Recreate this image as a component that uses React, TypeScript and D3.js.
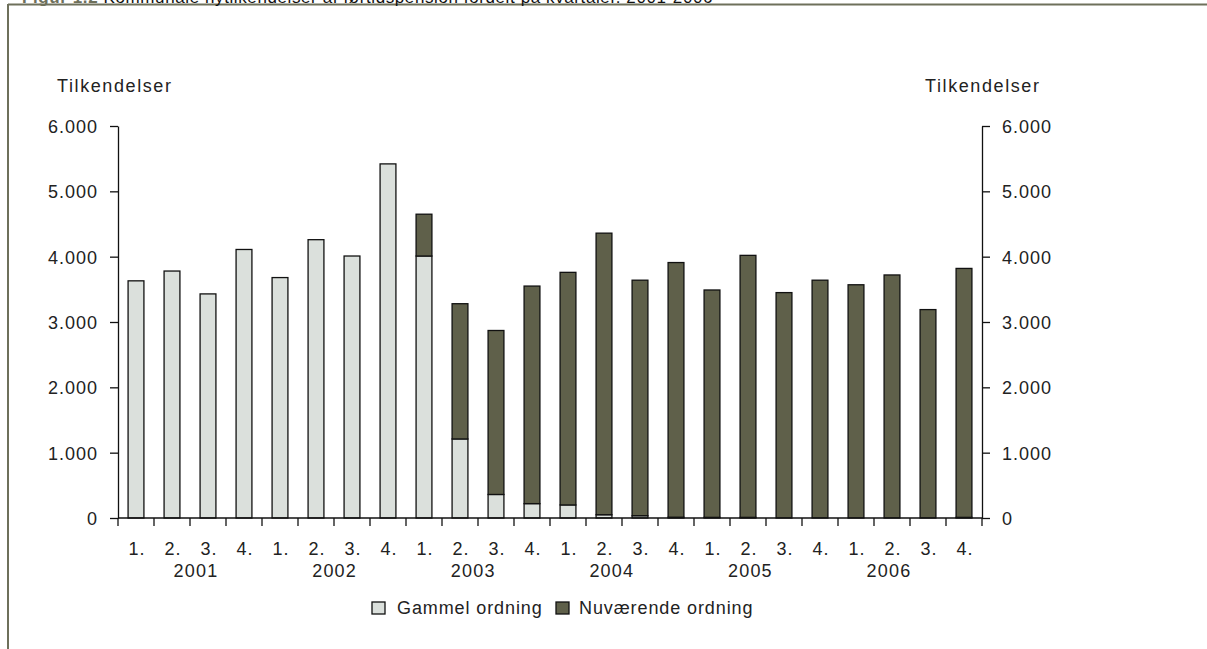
import { useEffect, useRef } from 'react';
import * as d3 from 'd3';

const years = ['2001', '2002', '2003', '2004', '2005', '2006'];
const quarterNames = ['1.', '2.', '3.', '4.'];
const gammel = [3630, 3780, 3430, 4110, 3680, 4260, 4010, 5420, 4010, 1210, 360, 220, 200, 50, 35, 12, 10, 10, 0, 0, 0, 0, 0, 10];
const nuvaerende = [0, 0, 0, 0, 0, 0, 0, 0, 640, 2070, 2510, 3330, 3560, 4310, 3605, 3898, 3480, 4010, 3450, 3640, 3570, 3720, 3190, 3810];
const yTicks = [0, 1000, 2000, 3000, 4000, 5000, 6000];
const seriesNames = ['Gammel ordning', 'Nuværende ordning'];

const W = 1207;
const H = 649;
const FONT = 'Liberation Sans, Arial, sans-serif';
const LIGHT = '#dbe0dc';
const DARK = '#5f604a';
const FRAME = '#6e705b';

const App = () => {
  const ref = useRef(null);

  useEffect(() => {
    const svg = d3.select(ref.current);
    svg.selectAll('*').remove();

    const left = 118, right = 982, top = 126, bottom = 518;

    const rows = years.flatMap((yr) =>
      quarterNames.map((q) => ({ key: `${yr}-${q}`, year: yr, q }))
    ).map((d, i) => ({ ...d, gammel: gammel[i], nuv: nuvaerende[i] }));

    const x = d3.scaleBand().domain(rows.map((d) => d.key)).range([left, right]).paddingInner(0.56).paddingOuter(0.28);
    const y = d3.scaleLinear().domain([0, 6000]).range([bottom, top]);
    const yearX = d3.scalePoint().domain(years).range([left + 78, right - 93]);

    const nf = d3.formatLocale({ decimal: ',', thousands: '.', grouping: [3], currency: ['', ''] }).format(',');

    // frame + clipped title
    svg.append('line').attr('x1', 8).attr('x2', W).attr('y1', 4.5).attr('y2', 4.5).attr('stroke', FRAME).attr('stroke-width', 2);
    svg.append('line').attr('x1', 8).attr('x2', 8).attr('y1', 4).attr('y2', H).attr('stroke', FRAME).attr('stroke-width', 2);
    const title = svg.append('text').attr('x', 22).attr('y', 3).attr('font-family', FONT).attr('font-size', 17).attr('letter-spacing', 0.6);
    title.append('tspan').attr('fill', FRAME).attr('font-weight', 'bold').text('Figur 1.2 ');
    title.append('tspan').attr('fill', '#111').text('Kommunale nytilkendelser af førtidspension fordelt på kvartaler. 2001-2006');

    // bars
    const stack = d3.stack().keys(['gammel', 'nuv'])(rows);
    const colors = [LIGHT, DARK];
    stack.forEach((layer, li) => {
      svg.append('g')
        .selectAll('rect')
        .data(layer.filter((d) => d[1] - d[0] > 0))
        .join('rect')
        .attr('x', (d) => x(d.data.key))
        .attr('width', x.bandwidth())
        .attr('y', (d) => y(d[1]))
        .attr('height', (d) => y(d[0]) - y(d[1]))
        .attr('fill', colors[li])
        .attr('stroke', '#111')
        .attr('stroke-width', 1.3);
    });

    // y axes
    const styleAxis = (g) => {
      g.selectAll('path, line').attr('stroke', '#111').attr('stroke-width', 1.3);
      g.selectAll('text').attr('font-family', FONT).attr('font-size', 18).attr('fill', '#222').attr('letter-spacing', 1);
    };
    svg.append('g').attr('transform', `translate(${left},0)`)
      .call(d3.axisLeft(y).tickValues(yTicks).tickFormat(nf).tickSize(8).tickSizeOuter(0).tickPadding(12))
      .call(styleAxis);
    svg.append('g').attr('transform', `translate(${right},0)`)
      .call(d3.axisRight(y).tickValues(yTicks).tickFormat(nf).tickSize(8).tickSizeOuter(0).tickPadding(12))
      .call(styleAxis);
    svg.selectAll('.domain').attr('d', function () {
      return d3.select(this).attr('d');
    });
    svg.selectAll('g text').attr('dy', '0.36em');

    // axis titles
    svg.append('text').attr('x', 57).attr('y', 92).attr('font-family', FONT).attr('font-size', 18).attr('letter-spacing', 1.6).attr('fill', '#222').text('Tilkendelser');
    svg.append('text').attr('x', 925).attr('y', 92).attr('font-family', FONT).attr('font-size', 18).attr('letter-spacing', 1.6).attr('fill', '#222').text('Tilkendelser');

    // x axis
    const xa = svg.append('g');
    xa.append('line').attr('x1', left).attr('x2', right).attr('y1', bottom).attr('y2', bottom).attr('stroke', '#111').attr('stroke-width', 1.3);
    const step = x.step();
    const boundaries = d3.range(rows.length + 1).map((i) => left + i * step);
    xa.selectAll('line.tick').data(boundaries).join('line').attr('class', 'tick')
      .attr('x1', (d) => d).attr('x2', (d) => d).attr('y1', bottom).attr('y2', bottom + 8)
      .attr('stroke', '#111').attr('stroke-width', 1.3);
    xa.selectAll('text.q').data(rows).join('text').attr('class', 'q')
      .attr('x', (d) => x(d.key) + x.bandwidth() / 2 + 1).attr('y', 555)
      .attr('text-anchor', 'middle').attr('font-family', FONT).attr('font-size', 18).attr('fill', '#222').attr('letter-spacing', 1)
      .text((d) => d.q);
    xa.selectAll('text.yr').data(years).join('text').attr('class', 'yr')
      .attr('x', (d) => yearX(d)).attr('y', 577)
      .attr('text-anchor', 'middle').attr('font-family', FONT).attr('font-size', 18).attr('fill', '#222').attr('letter-spacing', 1.2)
      .text((d) => d);

    // legend
    const lg = svg.append('g');
    const items = [
      { name: seriesNames[0], color: LIGHT, bx: 372, tx: 397 },
      { name: seriesNames[1], color: DARK, bx: 556, tx: 579 },
    ];
    items.forEach((it) => {
      lg.append('rect').attr('x', it.bx).attr('y', 602).attr('width', 13).attr('height', 12).attr('fill', it.color).attr('stroke', '#111').attr('stroke-width', 1.3);
      lg.append('text').attr('x', it.tx).attr('y', 614).attr('font-family', FONT).attr('font-size', 18).attr('letter-spacing', 0.9).attr('fill', '#222').text(it.name);
    });
  }, []);

  return (
    <svg ref={ref} width={W} height={H} style={{ position: 'absolute', left: 0, top: 0, background: '#fff' }} />
  );
};

export default App;
